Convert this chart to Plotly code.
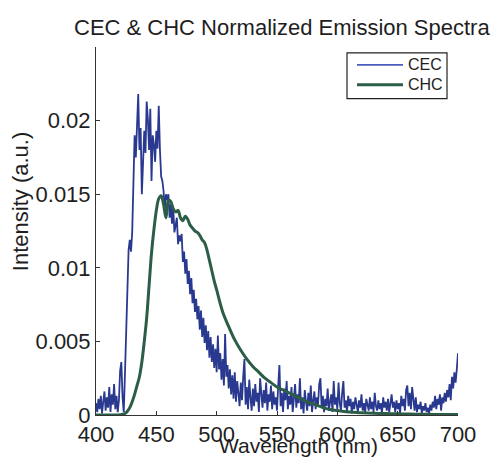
import plotly.graph_objects as go

# CEC emission (1 nm steps, 400..700 nm)
cec_wl = list(range(400, 701))
cec_val = [
    0.0008, 0.0002, 0.0011, 0.0004, 0.0013, 0.0001, 0.0009, 0.0016, 0.0003, 0.0012,
    0.0005, 0.0019, 0.0002, 0.0014, 0.0007, 0.0021, 0.0004, 0.0013, 0.0002, 0.0010,
    0.0030, 0.0036, 0.0012, 0.0002, 0.0028, 0.0061, 0.0094, 0.0112, 0.0119, 0.0111,
    0.0124, 0.0160, 0.0190, 0.0175, 0.0205, 0.0218, 0.0180, 0.0195, 0.0150, 0.0170,
    0.0193, 0.0178, 0.0213, 0.0201, 0.0180, 0.0208, 0.0159, 0.0190, 0.0184, 0.0172,
    0.0193, 0.0181, 0.0210, 0.0180, 0.0162, 0.0159, 0.0152, 0.0140, 0.0150, 0.0146,
    0.0150, 0.0134, 0.0143, 0.0130, 0.0141, 0.0124, 0.0128, 0.0134, 0.0116, 0.0122,
    0.0118, 0.0123, 0.0104, 0.0111, 0.0096, 0.0106, 0.0089, 0.0098, 0.0082, 0.0093,
    0.0076, 0.0085, 0.0070, 0.0079, 0.0065, 0.0074, 0.0058, 0.0071, 0.0053, 0.0066,
    0.0049, 0.0061, 0.0044, 0.0057, 0.0039, 0.0053, 0.0036, 0.0048, 0.0032, 0.0045,
    0.0029, 0.0054, 0.0031, 0.0042, 0.0024, 0.0038, 0.0020, 0.0055, 0.0026, 0.0034,
    0.0018, 0.0031, 0.0014, 0.0027, 0.0011, 0.0029, 0.0009, 0.0023, 0.0015, 0.0006,
    0.0022, 0.0010, 0.0026, 0.0038, 0.0007, 0.0019, 0.0004, 0.0024, 0.0012, 0.0003,
    0.0018, 0.0006, 0.0021, 0.0009, 0.0015, 0.0002, 0.0025, 0.0011, 0.0005, 0.0017,
    0.0008, 0.0022, 0.0003, 0.0014, 0.0009, 0.0020, 0.0004, 0.0016, 0.0007, 0.0012,
    0.0003, 0.0020, 0.0034, 0.0006, 0.0015, 0.0002, 0.0018, 0.0010, 0.0023, 0.0004,
    0.0013, 0.0007, 0.0019, 0.0002, 0.0011, 0.0021, 0.0005, 0.0014, 0.0008, 0.0025,
    0.0004, 0.0012, 0.0001, 0.0017, 0.0009, 0.0003, 0.0015, 0.0006, 0.0020, 0.0002,
    0.0010, 0.0016, 0.0004, 0.0012, 0.0007, 0.0021, 0.0025, 0.0005, 0.0013, 0.0002,
    0.0011, 0.0006, 0.0018, 0.0003, 0.0009, 0.0014, 0.0002, 0.0023, 0.0007, 0.0012,
    0.0004, 0.0022, 0.0008, 0.0003, 0.0015, 0.0023, 0.0005, 0.0010, 0.0002, 0.0013,
    0.0006, 0.0011, 0.0001, 0.0009, 0.0004, 0.0012, 0.0007, 0.0002, 0.0010, 0.0005,
    0.0014, 0.0003, 0.0008, 0.0001, 0.0011, 0.0006, 0.0003, 0.0012, 0.0004, 0.0009,
    0.0002, 0.0015, 0.0006, 0.0003, 0.0010, 0.0004, 0.0008, 0.0001, 0.0012, 0.0005,
    0.0009, 0.0003, 0.0011, 0.0002, 0.0007, 0.0014, 0.0005, 0.0009, 0.0002, 0.0010,
    0.0004, 0.0008, 0.0001, 0.0013, 0.0006, 0.0011, 0.0003, 0.0017, 0.0020, 0.0006,
    0.0015, 0.0004, 0.0019, 0.0008, 0.0003, 0.0012, 0.0002, 0.0007, 0.0004, 0.0009,
    0.0001, 0.0006, 0.0003, 0.0008, 0.0002, 0.0005, 0.0001, 0.0007, 0.0003, 0.0009,
    0.0005, 0.0013, 0.0004, 0.0011, 0.0007, 0.0014, 0.0003, 0.0012, 0.0008, 0.0015,
    0.0009, 0.0017, 0.0012, 0.0021, 0.0010, 0.0026, 0.0018, 0.0029, 0.0022, 0.0031,
    0.0042,
]

# CHC emission (smooth)
chc_wl = [400, 405, 410, 415, 420, 424, 426, 428, 430, 432, 434, 436, 438, 440, 442,
          444, 446, 448, 450, 452, 454, 456, 458, 460, 462, 464, 466, 468, 470, 472,
          474, 476, 478, 480, 482, 484, 486, 488, 490, 492, 494, 496, 498, 500, 505,
          510, 515, 520, 525, 530, 535, 540, 545, 550, 555, 560, 565, 570, 575, 580,
          585, 590, 595, 600, 610, 620, 630, 640, 650, 660, 670, 680, 690, 700]
chc_val = [0.0, 0.0, 0.0, 0.0, 0.00002, 0.0001, 0.00025, 0.0005, 0.0009, 0.0014,
           0.0020, 0.0026, 0.0036, 0.0050, 0.0066, 0.0088, 0.0110, 0.0126, 0.0139, 0.0147,
           0.0149, 0.0143, 0.0134, 0.0146, 0.0145, 0.0140, 0.0138, 0.0139, 0.0134, 0.0132,
           0.0135, 0.0133, 0.0129, 0.0127, 0.0125, 0.0124, 0.0122, 0.0119, 0.0117, 0.0112,
           0.0105, 0.0098, 0.0091, 0.0085, 0.0070, 0.0060, 0.0051, 0.0044, 0.0038, 0.0033,
           0.0029, 0.0025, 0.0022, 0.0019, 0.0017, 0.0015, 0.0013, 0.0011, 0.0009, 0.00075,
           0.0006, 0.00045, 0.00035, 0.0003, 0.0002, 0.00015, 0.00012, 0.0001, 0.00008, 0.00006,
           0.00005, 0.00004, 0.00003, 0.00003]

x_ticks = [400, 450, 500, 550, 600, 650, 700]
y_ticks = [0, 0.005, 0.01, 0.015, 0.02]
y_ticktext = ["0", "0.005", "0.01", "0.015", "0.02"]
series_names = ["CEC", "CHC"]
series_colors = ["#2a3990", "#2c5e47"]
legend_line_colors = ["#4a5cc0", "#2c5e47"]

FONT = "Liberation Sans, Arial, sans-serif"
INK = "#1e1e1e"

fig = go.Figure()
fig.add_trace(go.Scatter(x=cec_wl, y=cec_val, mode="lines", name=series_names[0],
                         line=dict(color=series_colors[0], width=1.8)))
fig.add_trace(go.Scatter(x=chc_wl, y=chc_val, mode="lines", name=series_names[1],
                         line=dict(color=series_colors[1], width=3, shape="spline")))

L, R, T, B = 96, 40, 47, 42
W, H = 498, 459
pw, ph = W - L - R, H - T - B


def px_x(p):
    return (p - L) / pw


def px_y(p):
    return (H - B - p) / ph


# legend box drawn by hand (paper coordinates)
shapes = [dict(type="rect", xref="paper", yref="paper",
               x0=px_x(347), x1=px_x(447), y0=px_y(99), y1=px_y(53),
               line=dict(color="#222", width=1.2), fillcolor="white", layer="above")]
annotations = []
for i, (nm, col) in enumerate(zip(series_names, legend_line_colors)):
    yy = 65 + 20 * i
    shapes.append(dict(type="line", xref="paper", yref="paper",
                       x0=px_x(357), x1=px_x(403), y0=px_y(yy), y1=px_y(yy),
                       line=dict(color=col, width=1.8 if i == 0 else 3), layer="above"))
    annotations.append(dict(text=nm, xref="paper", yref="paper", x=px_x(406), y=px_y(yy),
                            xanchor="left", yanchor="middle", showarrow=False,
                            font=dict(size=16)))

annotations += [
    dict(text="CEC & CHC Normalized Emission Spectra", xref="paper", yref="paper",
         x=px_x(282), y=px_y(27), xanchor="center", yanchor="middle",
         showarrow=False, font=dict(size=22)),
    dict(text="Wavelength (nm)", xref="paper", yref="paper",
         x=px_x(298), y=px_y(448), xanchor="center", yanchor="middle",
         showarrow=False, font=dict(size=21)),
    dict(text="Intensity (a.u.)", xref="paper", yref="paper", textangle=-90,
         x=px_x(20), y=px_y(203), xanchor="center", yanchor="middle",
         showarrow=False, font=dict(size=22)),
]

fig.update_layout(
    width=W, height=H,
    margin=dict(l=L, r=R, t=T, b=B),
    paper_bgcolor="white", plot_bgcolor="white",
    font=dict(family=FONT, color=INK, size=22),
    showlegend=False,
    xaxis=dict(range=[400, 700], tickvals=x_ticks, ticks="inside", ticklen=4,
               showline=True, linecolor="#333", linewidth=1, showgrid=False,
               zeroline=False, tickfont=dict(size=22), tickcolor="#333"),
    yaxis=dict(range=[0, 0.025], tickvals=y_ticks, ticktext=y_ticktext,
               ticks="inside", ticklen=4, showline=True, linecolor="#333",
               linewidth=1, showgrid=False, zeroline=False,
               tickfont=dict(size=22), tickcolor="#333"),
    shapes=shapes,
    annotations=annotations,
)

fig.write_html("out.html")
